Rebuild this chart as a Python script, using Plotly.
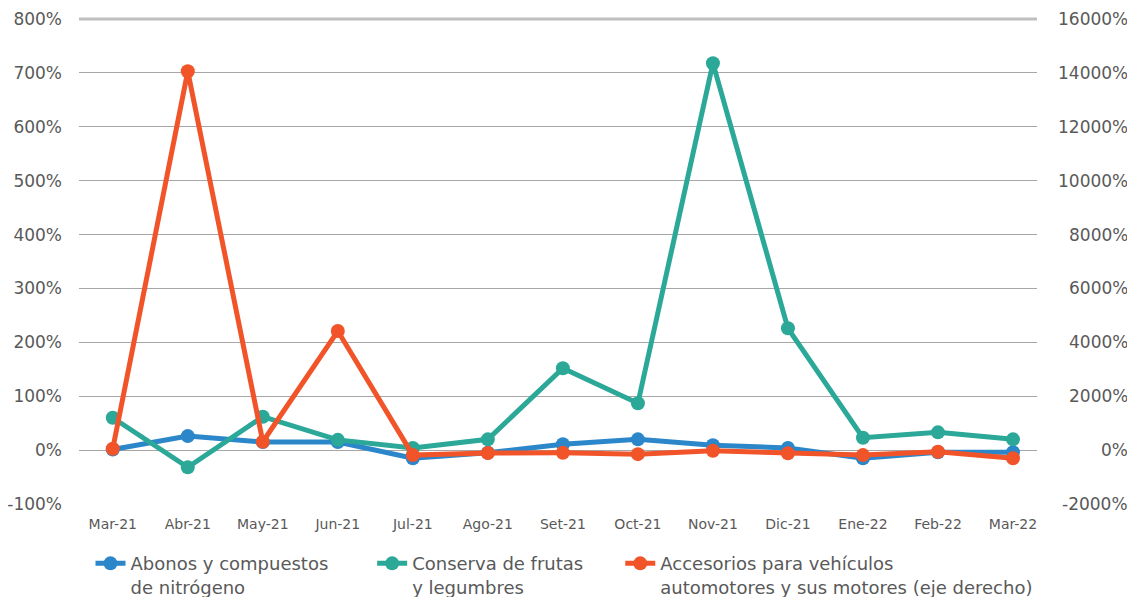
import plotly.graph_objects as go

months = ["Mar-21", "Abr-21", "May-21", "Jun-21", "Jul-21", "Ago-21", "Set-21",
          "Oct-21", "Nov-21", "Dic-21", "Ene-22", "Feb-22", "Mar-22"]

abonos = [1, 26, 15, 15, -15, -5, 11, 20, 9, 4, -15, -4, -4]
conserva = [60, -32, 62, 19, 4, 20, 152, 87, 718, 226, 23, 33, 20]
accesorios = [50, 14060, 310, 4420, -185, -110, -100, -150, -25, -120, -185, -60, -300]

names = ["Abonos y compuestos<br>de nitrógeno",
         "Conserva de frutas<br>y legumbres",
         "Accesorios para vehículos<br>automotores y sus motores (eje derecho)"]
colors = ["#2B87C9", "#2BA898", "#F2542A"]

left_ticks = list(range(-100, 801, 100))
right_ticks = list(range(-2000, 16001, 2000))

FONT = "DejaVu Sans"
TXT = "#595959"

fig = go.Figure()
fig.add_trace(go.Scatter(x=months, y=abonos, name=names[0], mode="lines+markers",
                         legend="legend", showlegend=True,
                         line=dict(color=colors[0], width=5),
                         marker=dict(size=14, color=colors[0])))
fig.add_trace(go.Scatter(x=months, y=conserva, name=names[1], mode="lines+markers",
                         legend="legend2", showlegend=True,
                         line=dict(color=colors[1], width=5),
                         marker=dict(size=14, color=colors[1])))
fig.add_trace(go.Scatter(x=months, y=accesorios, name=names[2], mode="lines+markers",
                         yaxis="y2", legend="legend3", showlegend=True,
                         line=dict(color=colors[2], width=5),
                         marker=dict(size=14, color=colors[2])))

annotations = [dict(x=1.097, xref="paper", y=v, yref="y2", text=f"{v}%",
                    xanchor="right", yanchor="middle", showarrow=False,
                    font=dict(size=17, color=TXT, family=FONT))
               for v in right_ticks]


def leg(x):
    return dict(orientation="h", x=x, xanchor="left",
                yref="container", y=0.088, yanchor="top", valign="top",
                font=dict(size=18, color=TXT, family=FONT),
                itemwidth=30, bgcolor="rgba(0,0,0,0)")


fig.update_layout(
    width=1127, height=589,
    margin=dict(l=71, r=98, t=11, b=93),
    showlegend=True,
    plot_bgcolor="white", paper_bgcolor="white",
    font=dict(family=FONT, color=TXT, size=17),
    xaxis=dict(type="category", range=[-0.45, 12.32], showgrid=False,
               showline=False, ticks="", tickfont=dict(size=14), zeroline=False,
               automargin=False, ticklabelstandoff=10),
    yaxis=dict(range=[-100, 800], tickvals=left_ticks,
               ticktext=[f"{v}%" for v in left_ticks],
               showgrid=True, gridcolor="#A6A6A6", gridwidth=1, zeroline=False,
               tickfont=dict(size=17), ticks="", automargin=False,
               ticklabelstandoff=16),
    yaxis2=dict(range=[-2000, 16000], tickvals=right_ticks,
                showticklabels=False,
                overlaying="y", side="right", showgrid=False, zeroline=False,
                automargin=False),
    legend=leg(0.012),
    legend2=leg(0.306),
    legend3=leg(0.565),
    annotations=annotations,
    shapes=[dict(type="line", xref="paper", yref="paper", x0=0, x1=1, y0=1, y1=1,
                 line=dict(color="#BFBFBF", width=3), layer="below")],
)

fig.write_html("out.html")
